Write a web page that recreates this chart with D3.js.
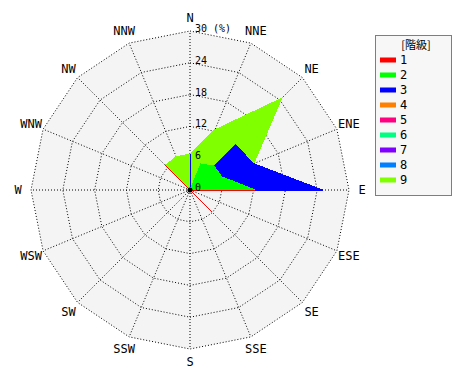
<!DOCTYPE html>
<html><head><meta charset="utf-8">
<script src="https://cdn.jsdelivr.net/npm/d3@7"></script>
<style>body{margin:0;background:#fff}svg{display:block}</style>
</head><body>
<svg id="c" width="470" height="380"></svg>
<script>
const directions = ["N","NNE","NE","ENE","E","ESE","SE","SSE","S","SSW","SW","WSW","W","WNW","NW","NNW"];
const ringTicks = [0, 6, 12, 18, 24, 30];
const classes = ["1","2","3","4","5","6","7","8","9"];
const classColors = ["#ff0000","#00ff00","#0000ff","#ff8000","#ff0080","#00ff80","#8000ff","#0080ff","#80ff00"];
// values (%) per class, order N, NNE, NE, ... NNW
const class1 = [0,0,0,0,12.3,0,5.8,0,0,0,0,0,0,0,6.6,0];
const class2 = [0,5.3,6.4,6.5,12.3,0,0,0,0,0,0,0,0,0,0,0];
const class3 = [6.8,0,12.1,13,25,0,0,0,0,0,0,0,0,0,0,0];
const class4 = [0,0,0,0,0,0,0,0,0,0,0,0,0,0,0,0];
const class5 = [0,0,0,0,0,0,0,0,0,0,0,0,0,0,0,0];
const class6 = [0,0,0,0,0,0,0,0,0,0,0,0,0,0,0,0];
const class7 = [0,0,0,0,0,0,0,0,0,0,0,0,0,0,0,0];
const class8 = [0,0,0,0,0,0,0,0,0,0,0,0,0,0,0,0];
const class9 = [6.8,12.3,24.5,13,25,0,0,0,0,0,0,0,0,0,6.6,6.8];
const seriesValues = [class1,class2,class3,class4,class5,class6,class7,class8,class9];

const svg = d3.select("#c");
const cx = 190, cy = 190, R = 159;
const r = d3.scaleLinear().domain([0, 30]).range([0, R]);
const ang = d3.scaleLinear().domain([0, directions.length]).range([0, 2*Math.PI]);
const g = svg.append("g").attr("transform", `translate(${cx},${cy})`);
const mono = "'DejaVu Sans Mono', 'Liberation Mono', monospace";

const ringLine = d3.lineRadial().angle((d,i)=>ang(i)).radius(d=>r(d)).curve(d3.curveLinearClosed);

// background
g.append("path").attr("d", ringLine(directions.map(()=>30))).attr("fill", "#f4f4f4");

// grid rings
ringTicks.slice(1).forEach(t=>{
  g.append("path").attr("d", ringLine(directions.map(()=>t)))
    .attr("fill","none").attr("stroke","#000").attr("stroke-width",1).attr("stroke-dasharray","1,2");
});
// spokes
directions.forEach((d,i)=>{
  const a = ang(i);
  g.append("line").attr("x1",0).attr("y1",0)
    .attr("x2", r(30)*Math.sin(a)).attr("y2", -r(30)*Math.cos(a))
    .attr("stroke","#000").attr("stroke-width",1).attr("stroke-dasharray","1,2");
});

// series polygons, drawn from class 9 down to class 1
for (let k = classes.length-1; k >= 0; k--) {
  g.append("path").attr("d", ringLine(seriesValues[k]))
    .attr("fill", classColors[k]).attr("stroke", classColors[k]).attr("stroke-width", 1)
    .attr("shape-rendering","crispEdges");
}

// center dot
g.append("circle").attr("r", 2.5).attr("fill", "#000");

// ring labels
ringTicks.forEach(t=>{
  g.append("text").attr("x", 5).attr("y", -r(t)+1)
    .attr("font-family", mono).attr("font-size", 10).attr("fill","#000")
    .text(t === 30 ? "30 (%)" : String(t));
});

// direction labels
directions.forEach((d,i)=>{
  const a = ang(i), lr = 172;
  g.append("text").attr("x", lr*Math.sin(a)).attr("y", -lr*Math.cos(a))
    .attr("text-anchor","middle").attr("dy","0.35em")
    .attr("font-family", mono).attr("font-size", 12).attr("fill","#000").text(d);
});

// legend
const lg = svg.append("g").attr("transform","translate(375,35)");
lg.append("rect").attr("x",0.5).attr("y",0.5).attr("width",76).attr("height",160)
  .attr("fill","#f7f7f7").attr("stroke","#000").attr("stroke-dasharray","1,1");
lg.append("text").attr("x",41).attr("y",10).attr("dy","0.35em").attr("text-anchor","middle")
  .attr("font-family","'Noto Sans CJK JP', monospace").attr("font-size",11).text("[階級]");
classes.forEach((c,i)=>{
  const y = 25 + i*15;
  lg.append("rect").attr("x",5).attr("y",y-2.5).attr("width",16).attr("height",5).attr("fill",classColors[i]);
  lg.append("text").attr("x",25).attr("y",y).attr("dy","0.35em")
    .attr("font-family", mono).attr("font-size",12).text(c);
});
</script>
</body></html>
